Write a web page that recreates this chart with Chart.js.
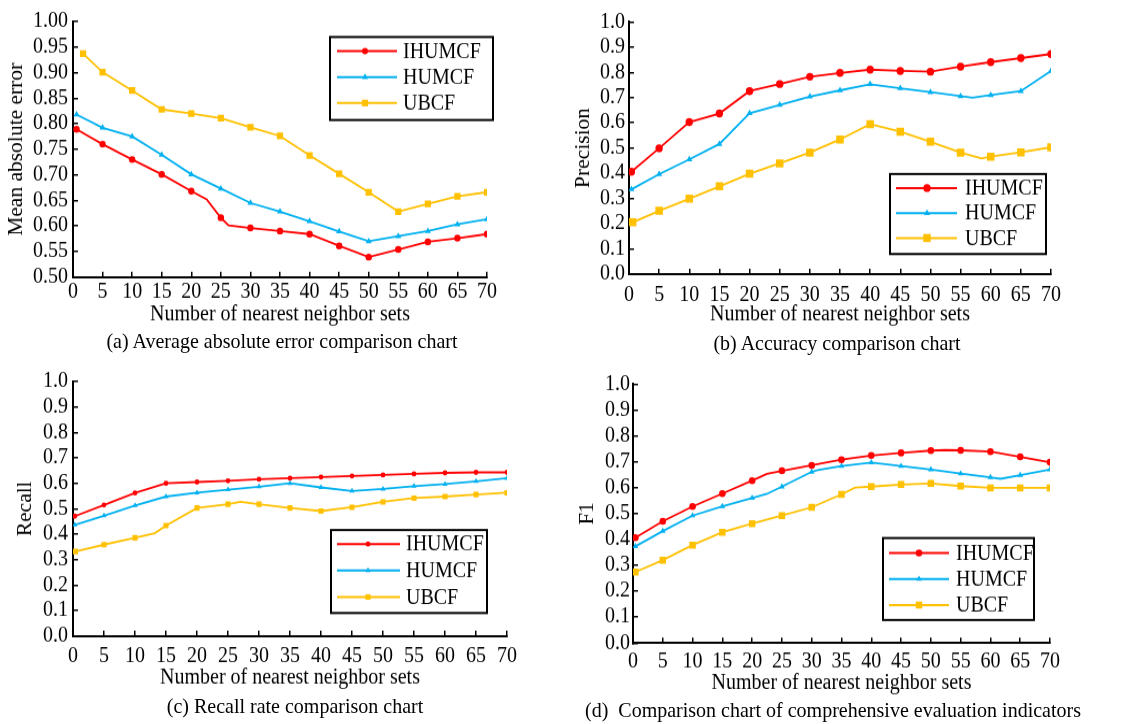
<!DOCTYPE html>
<html>
<head>
<meta charset="utf-8">
<script src="https://cdn.jsdelivr.net/npm/chart.js@4.4.1/dist/chart.umd.min.js"></script>
<style>
  body { margin: 0; background: #fff; width: 1127px; height: 724px; position: relative; overflow: hidden;
         font-family: 'Liberation Serif', 'Times New Roman', serif; color: #000; }
  .panel { position: absolute; transform-origin: 0 0; transform: scale(1, 1.075); }
  .panel canvas { display: block; }
  .cap { position: absolute; font-size: 20px; line-height: 1; white-space: nowrap;
         transform: translate(-50%, -50%) scale(1, 1.075); }
</style>
</head>
<body>
<div class="panel" style="left:0;top:0"><canvas id="chartA"></canvas></div>
<div class="panel" style="left:560px;top:0"><canvas id="chartB"></canvas></div>
<div class="panel" style="left:0;top:360px"><canvas id="chartC"></canvas></div>
<div class="panel" style="left:560px;top:360px"><canvas id="chartD"></canvas></div>
<div class="cap" style="left:282px;top:340px">(a) Average absolute error comparison chart</div>
<div class="cap" style="left:837px;top:342px">(b) Accuracy comparison chart</div>
<div class="cap" style="left:295px;top:705px">(c) Recall rate comparison chart</div>
<div class="cap" style="left:833px;top:709px">(d)&nbsp; Comparison chart of comprehensive evaluation indicators</div>
<script>
'use strict';

var seriesNames = ['IHUMCF', 'HUMCF', 'UBCF'];
var xTicks = [0, 70, 5];

// (a) mean absolute error
var aRedX = [0.6, 5, 10, 15, 20, 22.6, 25, 26.3, 30, 35, 40, 45, 50, 55, 60, 65, 70];
var aRedY = [0.789, 0.760, 0.730, 0.701, 0.668, 0.652, 0.616, 0.601, 0.596, 0.590, 0.584, 0.561, 0.539, 0.554, 0.569, 0.576, 0.584];
var aBlueX = [0.6, 5, 10, 15, 20, 25, 30, 35, 40, 45, 50, 55, 60, 65, 70];
var aBlueY = [0.818, 0.792, 0.775, 0.739, 0.701, 0.673, 0.645, 0.628, 0.609, 0.589, 0.570, 0.580, 0.590, 0.603, 0.613];
var aYelX = [1.7, 5, 10, 15, 20, 25, 30, 35, 40, 45, 50, 55, 60, 65, 70];
var aYelY = [0.937, 0.901, 0.865, 0.828, 0.820, 0.811, 0.793, 0.776, 0.738, 0.702, 0.666, 0.628, 0.643, 0.658, 0.666];

// (b) precision
var bRedX = [0.4, 5, 10, 15, 20, 25, 30, 35, 40, 45, 50, 55, 60, 65, 70];
var bRedY = [0.406, 0.499, 0.603, 0.637, 0.726, 0.754, 0.783, 0.798, 0.811, 0.806, 0.803, 0.823, 0.841, 0.857, 0.873];
var bBlueX = [0.4, 5, 10, 15, 20, 25, 30, 35, 40, 45, 50, 55, 57, 60, 65, 70];
var bBlueY = [0.336, 0.396, 0.455, 0.516, 0.638, 0.671, 0.704, 0.729, 0.753, 0.737, 0.722, 0.706, 0.700, 0.710, 0.726, 0.806];
var bYelX = [0.6, 5, 10, 15, 20, 25, 30, 35, 40, 45, 50, 55, 58.5, 60, 65, 70];
var bYelY = [0.205, 0.251, 0.299, 0.348, 0.398, 0.439, 0.482, 0.534, 0.595, 0.565, 0.525, 0.482, 0.459, 0.466, 0.483, 0.503];

// (c) recall
var cRedX = [0.3, 5, 10, 15, 20, 25, 30, 35, 40, 45, 50, 55, 60, 65, 70];
var cRedY = [0.471, 0.515, 0.562, 0.600, 0.605, 0.610, 0.616, 0.620, 0.625, 0.629, 0.633, 0.637, 0.641, 0.643, 0.643];
var cBlueX = [0.3, 5, 10, 15, 20, 25, 30, 35, 40, 45, 50, 55, 60, 65, 70];
var cBlueY = [0.437, 0.473, 0.513, 0.548, 0.563, 0.575, 0.587, 0.600, 0.584, 0.570, 0.578, 0.589, 0.597, 0.608, 0.620];
var cYelX = [0.4, 5, 10, 13.2, 15, 20, 25, 27, 30, 35, 40, 45, 50, 55, 60, 65, 70];
var cYelY = [0.332, 0.359, 0.386, 0.404, 0.434, 0.503, 0.518, 0.527, 0.518, 0.503, 0.491, 0.506, 0.527, 0.542, 0.548, 0.556, 0.563];

// (d) F1
var dRedX = [0.4, 5, 10, 15, 20, 22.5, 25, 30, 35, 40, 45, 50, 52.5, 55, 60, 65, 70];
var dRedY = [0.407, 0.470, 0.527, 0.577, 0.627, 0.653, 0.665, 0.686, 0.708, 0.724, 0.734, 0.743, 0.745, 0.744, 0.739, 0.719, 0.698];
var dBlueX = [0.4, 5, 10, 15, 20, 22.5, 25, 30, 31, 35, 40, 45, 50, 55, 60, 61.7, 65, 70];
var dBlueY = [0.373, 0.432, 0.492, 0.528, 0.560, 0.576, 0.604, 0.661, 0.668, 0.683, 0.697, 0.683, 0.670, 0.654, 0.640, 0.634, 0.648, 0.670];
var dYelX = [0.4, 5, 10, 15, 20, 25, 30, 35, 37.3, 40, 45, 50, 55, 60, 65, 70];
var dYelY = [0.274, 0.320, 0.378, 0.428, 0.461, 0.492, 0.524, 0.574, 0.600, 0.604, 0.612, 0.616, 0.606, 0.599, 0.599, 0.599];

var colors = ['#ff0000', '#00b0f0', '#ffc000'];
var styles = ['circle', 'triangle', 'rect'];
var FONT = "'Liberation Serif', 'Times New Roman', serif";
var SY = 1.075; // the panels are stretched a little vertically (css transform)

Chart.defaults.font.family = FONT;
Chart.defaults.font.size = 20;
Chart.defaults.color = '#000';

function drawMarker(ctx, style, x, y, r, color) {
  ctx.fillStyle = color;
  ctx.beginPath();
  if (style === 'circle') {
    ctx.arc(x, y, r, 0, Math.PI * 2);
  } else if (style === 'triangle') {
    ctx.moveTo(x, y - r);
    ctx.lineTo(x + r * 0.866, y + r * 0.5);
    ctx.lineTo(x - r * 0.866, y + r * 0.5);
    ctx.closePath();
  } else {
    var s = r * Math.SQRT1_2;
    ctx.rect(x - s, y - s, 2 * s, 2 * s);
  }
  ctx.fill();
}

// legend drawn as a framed box inside the plot
var boxLegend = {
  id: 'boxLegend',
  afterDraw: function (chart, args, o) {
    var ctx = chart.ctx;
    var bx = o.x, by = o.y / SY, bw = o.w, bh = o.h / SY;
    ctx.save();
    ctx.fillStyle = '#fff';
    ctx.fillRect(bx, by, bw, bh);
    ctx.lineWidth = 2;
    ctx.strokeStyle = '#000';
    ctx.strokeRect(bx, by, bw, bh);
    chart.data.datasets.forEach(function (ds, i) {
      var cy = by + (o.rowTop + i * o.rowGap) / SY;
      ctx.strokeStyle = ds.borderColor;
      ctx.lineWidth = 2;
      ctx.beginPath();
      ctx.moveTo(bx + o.lineFrom, cy);
      ctx.lineTo(bx + o.lineTo, cy);
      ctx.stroke();
      drawMarker(ctx, ds.pointStyle, bx + o.mark, cy, ds.legendRadius, ds.borderColor);
      ctx.fillStyle = '#000';
      ctx.font = '20px ' + FONT;
      ctx.textBaseline = 'middle';
      ctx.fillText(ds.label, bx + o.text, cy + 1);
    });
    ctx.restore();
  }
};

function makeSet(i, xs, ys, r, lr) {
  var pts = [];
  for (var k = 0; k < xs.length; k++) pts.push({ x: xs[k], y: ys[k] });
  return {
    label: seriesNames[i],
    data: pts,
    borderColor: colors[i],
    backgroundColor: colors[i],
    borderWidth: 1.8,
    pointStyle: styles[i],
    pointBorderWidth: 0,
    pointRadius: function (c) {
      var x = xs[c.dataIndex];
      return (c.dataIndex === 0 || x % 5 === 0) ? r : 0;
    },
    legendRadius: lr,
    tension: 0
  };
}

// p: sizes in screen pixels (vertical ones get divided by SY)
function makeChart(id, sets, p) {
  var canvas = document.getElementById(id);
  canvas.width = p.W;
  canvas.height = Math.round(p.H / SY);
  var bottom = p.bottom / SY;
  new Chart(canvas, {
    type: 'line',
    data: { datasets: sets },
    plugins: [boxLegend],
    options: {
      responsive: false,
      animation: false,
      layout: { padding: { left: p.padLeft, top: p.top / SY, right: p.right, bottom: 0 } },
      plugins: {
        legend: { display: false },
        tooltip: { enabled: false },
        boxLegend: p.legend
      },
      scales: {
        x: {
          type: 'linear',
          min: xTicks[0],
          max: xTicks[1],
          afterFit: function (s) { s.height = canvas.height - bottom; },
          ticks: { stepSize: xTicks[2], autoSkip: false, maxRotation: 0, padding: p.xPad, font: { size: 20 }, color: '#000' },
          grid: { drawOnChartArea: false, drawTicks: true, tickLength: -5, color: '#000', lineWidth: 1.5 },
          border: { display: true, color: '#000', width: 2 },
          title: { display: true, text: 'Number of nearest neighbor sets', font: { size: 20 }, color: '#000', padding: { top: 4, bottom: 4 } }
        },
        y: {
          min: p.yMin,
          max: p.yMax,
          afterFit: function (s) { s.width = p.yWidth; },
          ticks: {
            stepSize: p.yStep, autoSkip: false, padding: p.yPad, font: { size: 20, lineHeight: 1 }, color: '#000',
            callback: function (v) { return Number(v).toFixed(p.dec); }
          },
          grid: { drawOnChartArea: false, drawTicks: true, tickLength: -5, color: '#000', lineWidth: 1.5 },
          border: { display: true, color: '#000', width: 2 },
          title: { display: true, text: p.yTitle, font: { size: 20 }, color: '#000', padding: { top: 4, bottom: 4 } }
        }
      }
    }
  });
}

makeChart('chartA', [
  makeSet(0, aRedX, aRedY, 3.2, 3),
  makeSet(1, aBlueX, aBlueY, 3.5, 3.5),
  makeSet(2, aYelX, aYelY, 4.4, 4.4)
], {
  W: 560, H: 332, padLeft: 1, yWidth: 72, top: 13, bottom: 277, right: 73, xPad: 7.1, yPad: 10,
  yMin: 0.5, yMax: 1.0, yStep: 0.05, dec: 2, yTitle: 'Mean absolute error',
  legend: { x: 330, y: 37, w: 163, h: 83, rowTop: 14, rowGap: 26, lineFrom: 7, lineTo: 67, mark: 35, text: 73 }
});

makeChart('chartB', [
  makeSet(0, bRedX, bRedY, 3.7, 3.7),
  makeSet(1, bBlueX, bBlueY, 3.5, 3.5),
  makeSet(2, bYelX, bYelY, 5.3, 5.3)
], {
  W: 567, H: 332, padLeft: 8, yWidth: 61, top: 22, bottom: 274, right: 76, xPad: 12.6, yPad: 9,
  yMin: 0, yMax: 1.0, yStep: 0.1, dec: 1, yTitle: 'Precision',
  legend: { x: 330, y: 174, w: 156, h: 80, rowTop: 14, rowGap: 25, lineFrom: 6, lineTo: 67, mark: 37, text: 75 }
});

makeChart('chartC', [
  makeSet(0, cRedX, cRedY, 2.4, 2.4),
  makeSet(1, cBlueX, cBlueY, 3, 3),
  makeSet(2, cYelX, cYelY, 3.6, 3.6)
], {
  W: 560, H: 335.5, padLeft: 10, yWidth: 63, top: 13, bottom: 276, right: 53, xPad: 11.8, yPad: 10,
  yMin: 0, yMax: 1.0, yStep: 0.1, dec: 1, yTitle: 'Recall',
  legend: { x: 331, y: 170, w: 156, h: 83, rowTop: 14, rowGap: 26.5, lineFrom: 6, lineTo: 69, mark: 37, text: 75 }
});

makeChart('chartD', [
  makeSet(0, dRedX, dRedY, 3.3, 3.3),
  makeSet(1, dBlueX, dBlueY, 3.3, 3.3),
  makeSet(2, dYelX, dYelY, 4.6, 4.6)
], {
  W: 567, H: 340.7, padLeft: 12, yWidth: 61, top: 24, bottom: 283, right: 77, xPad: 10.8, yPad: 8,
  yMin: 0, yMax: 1.0, yStep: 0.1, dec: 1, yTitle: 'F1',
  legend: { x: 323, y: 178, w: 151, h: 82, rowTop: 15, rowGap: 26, lineFrom: 6, lineTo: 66, mark: 36, text: 73 }
});
</script>
</body>
</html>
